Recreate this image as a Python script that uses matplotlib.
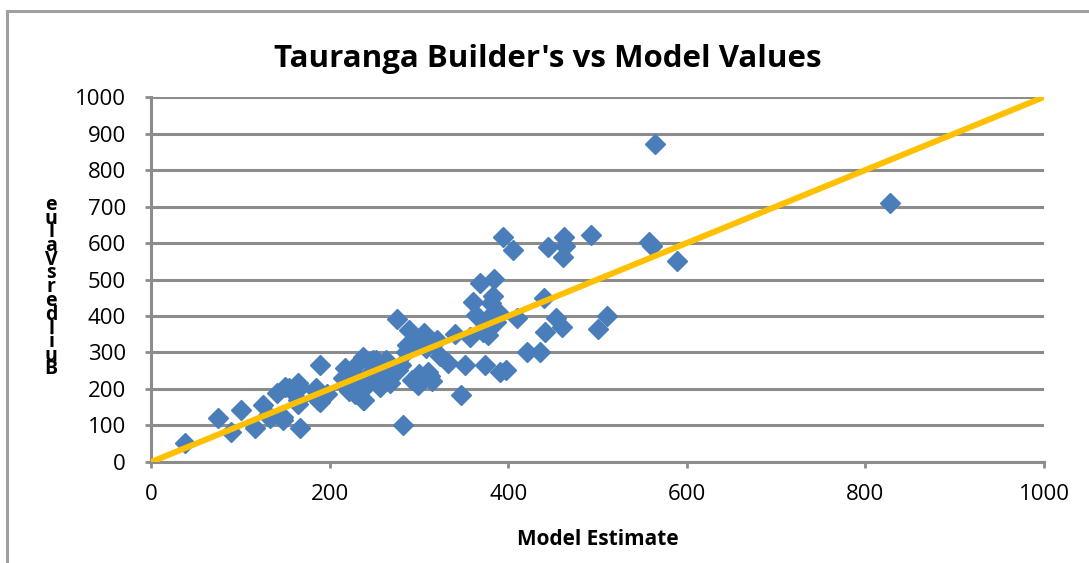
import matplotlib
matplotlib.use("Agg")
import matplotlib.pyplot as plt
from matplotlib.lines import Line2D

# model estimate vs builders value
model_est = [38, 75, 90, 101, 116, 125, 133, 141, 148, 155, 165, 167, 167, 185, 189, 189, 197,
             215, 217, 226, 228, 234, 238, 245, 249, 256, 261, 263, 268, 277, 275, 280, 282,
             287, 289, 292, 299, 306, 308, 310, 315, 320, 324, 332, 347, 352, 357, 361, 364,
             368, 371, 374, 377, 381, 384, 383, 386, 391, 394, 397, 405, 410, 421, 436, 440,
             441, 444, 454, 460, 461, 463, 464, 493, 500, 511, 558, 561, 564, 589, 828,
             131, 148, 150, 165, 165, 187, 184, 219, 226, 237, 237, 245, 249, 222, 230, 242,
             252, 258, 270, 285, 295, 300, 312, 318, 340, 372, 378, 380, 388]
builders = [52, 120, 82, 142, 93, 156, 120, 189, 115, 203, 159, 205, 93, 203, 266, 164, 186,
            230, 258, 244, 186, 216, 170, 274, 244, 205, 230, 279, 216, 252, 392, 266, 101,
            320, 362, 225, 211, 353, 312, 247, 222, 334, 290, 271, 184, 266, 342, 438, 403,
            490, 362, 266, 348, 436, 501, 455, 384, 247, 616, 252, 581, 395, 301, 301, 449,
            356, 589, 395, 370, 562, 616, 592, 622, 364, 400, 603, 592, 871, 551, 710,
            129, 123, 205, 216, 170, 170, 197, 205, 233, 288, 170, 244, 279, 195, 265, 210,
            280, 240, 260, 300, 330, 240, 235, 330, 350, 355, 385, 400, 410]

line_x = [0, 1000]
line_y = [0, 1000]

title = "Tauranga Builder's vs Model Values"
xlab = "Model Estimate"
ylab = "Builders Value"

grid_col = "#8c8c8c"
font = "Open Sans"

fig = plt.figure(figsize=(10.89, 5.63), dpi=100)
ax = fig.add_axes([0.1387, 0.1794, 0.82, 0.6483])

ax.plot(model_est, builders, linestyle="none", marker="D", markersize=10.5,
        color="#4a7ebb", markeredgecolor="#4a7ebb", zorder=3)
ax.plot(line_x, line_y, color="#ffc000", linewidth=4.3, solid_capstyle="projecting", zorder=4)

ax.set_xlim(0, 1000)
ax.set_ylim(0, 1000)
ax.set_xticks(range(0, 1001, 200))
ax.set_yticks(range(0, 1001, 100))
ax.yaxis.grid(True, color=grid_col, linewidth=2.2)
ax.set_axisbelow(True)
for s in ["top", "right"]:
    ax.spines[s].set_visible(False)
for s in ["left", "bottom"]:
    ax.spines[s].set_color(grid_col)
    ax.spines[s].set_linewidth(2.2)
ax.tick_params(length=4, width=2, color=grid_col, labelsize=16)
ax.tick_params(axis="y", pad=14)
ax.tick_params(axis="x", pad=12)
for lab in ax.get_xticklabels() + ax.get_yticklabels():
    lab.set_fontfamily(font)

fig.text(0.503, 0.895, title, ha="center", va="center", fontsize=22.5,
         fontweight="bold", family=font)
ax.set_xlabel(xlab, fontsize=15, fontweight="bold", family=font, labelpad=17)

# y label shows as stacked upright letters in the original
fig.text(0.047, 0.49, "\n".join(reversed(ylab.replace(" ", ""))), ha="center", va="center",
         fontsize=14, fontweight="bold", family=font, linespacing=0.58)

# partial chart border (left and top edges)
fig.add_artist(Line2D([0.0065, 0.0065], [0.0, 0.981], color="#a0a0a0", linewidth=2.2))
fig.add_artist(Line2D([0.0065, 1.0], [0.981, 0.981], color="#a0a0a0", linewidth=2.2))

fig.savefig("out.png", dpi=100)
